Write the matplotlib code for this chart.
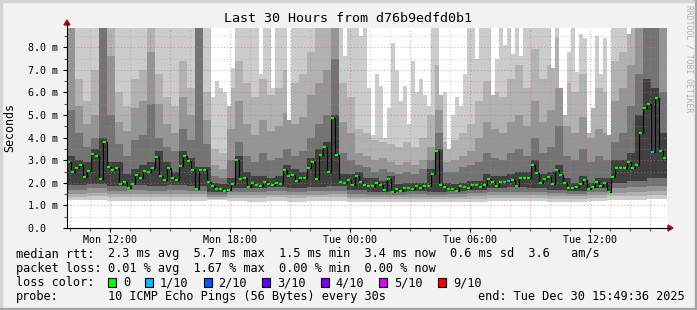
import matplotlib

matplotlib.use("Agg")
import matplotlib.pyplot as plt
import matplotlib.transforms as mtransforms
import numpy as np
from matplotlib.lines import Line2D
from matplotlib.patches import Polygon, Rectangle

W, H = 697, 310
T0 = 9 + 49 / 60 + 36 / 3600  # Mon 09:49:36, in hours since Mon 00:00
SPAN = 30

# median rtt (ms), one value per 12 minutes
median_ms = [
    2.94, 2.49, 2.64, 2.79, 2.27, 2.54, 3.27, 3.19, 2.15, 3.82,
    2.71, 2.57, 2.67, 1.95, 2.05, 1.78, 1.93, 2.35, 2.20, 2.52,
    2.49, 2.64, 3.13, 2.32, 2.12, 2.67, 2.20, 2.12, 2.76, 3.19,
    2.96, 2.57, 1.71, 2.57, 2.57, 2.02, 1.87, 1.73, 1.71, 1.64,
    1.68, 1.93, 3.01, 2.17, 2.23, 1.83, 1.98, 1.90, 1.86, 2.05,
    1.95, 1.90, 2.01, 1.93, 2.57, 2.32, 2.35, 2.09, 2.20, 2.20,
    2.67, 2.94, 2.17, 3.23, 3.60, 2.49, 4.88, 3.23, 2.05, 1.98,
    2.12, 1.90, 2.32, 2.05, 1.90, 1.87, 1.87, 1.98,
    1.90, 1.68, 2.17, 1.61, 1.71, 1.65, 1.76, 1.78, 1.73, 1.84,
    1.76, 1.84, 1.87, 2.37, 3.41, 1.90, 1.80, 1.71, 1.74, 1.64,
    1.87, 1.80, 1.76, 1.92, 1.90, 1.83, 1.90, 2.15, 2.05, 1.84,
    2.05, 2.05, 2.08, 2.11, 1.87, 2.23, 2.23, 2.20, 2.79,
    2.42, 1.98, 2.18, 2.27, 1.96, 2.57, 2.35, 1.98, 1.76, 1.78,
    1.81, 1.96, 2.11, 1.74, 1.83, 2.02, 1.87, 1.98, 1.61, 2.27,
    2.67, 2.67, 2.67, 2.94, 2.64, 2.79, 4.20, 5.30, 5.50, 3.35,
    5.77, 3.40, 3.10,
]
loss_1of10 = [110, 146]  # 12-minute slots where 1 of 10 pings was lost

# highest ping per 12 minutes (values above the top are clipped)
smoke_max = (
    [9.0] * 36
    + [5.8, 6.5, 6.2, 6.0, 5.4, 7.1]
    + [9.0] * 6
    + [6.8, 9.0, 9.0, 6.2, 9.0, 9.0, 9.0, 4.8]
    + [9.0] * 13
    + [7.6, 9.0, 9.0, 9.0]
    + [8.5, 9.0, 6.2, 4.1, 6.8, 6.3, 4.0, 5.3, 8.2, 7.0,
       5.6, 6.3, 4.6, 7.4, 6.0, 6.6, 5.9, 5.4, 9.0, 9.0,
       5.9, 6.0, 3.5, 5.0, 5.8, 5.4, 6.8, 9.0, 9.0, 7.5,
       9.0, 9.0, 9.0, 5.9, 7.5, 9.0, 8.1, 9.0, 7.7, 9.0,
       7.6]
    + [9.0] * 7
    + [7.1, 9.0, 6.2, 5.0, 7.8, 9.0, 6.9, 8.6, 8.4, 4.2,
       5.3, 8.5, 6.8, 8.4, 4.1, 9.0, 9.0, 9.0, 9.0, 8.6]
    + [9.0] * 9
)

# upper smoke layers, one value per 24 minutes
smoke_light = [
    8.9, 6.6, 5.6, 7.0, 8.9, 8.9, 6.0, 5.4, 6.6, 7.0, 8.9, 6.8, 5.8, 5.4, 7.4, 6.2, 8.9, 6.0,
    3.5, 3.3,
    6.2, 7.4, 6.4, 5.8, 6.6, 5.9, 6.2, 7.0, 6.4, 6.8, 7.8, 8.9, 8.9, 8.9, 6.4, 5.8,
    4.4, 4.2, 3.9, 3.8, 3.7, 3.6, 3.8, 3.6, 4.0, 5.0, 7.2, 3.8, 3.9, 4.2, 4.6,
    5.6, 6.5, 6.0, 5.8, 6.6, 7.2, 6.2, 7.9, 6.6, 7.2, 8.4, 6.4, 6.0, 6.8, 5.6, 6.2, 6.0,
    7.4, 7.8, 8.9, 8.9, 8.9, 8.9, 8.9,
]
smoke_mid = [
    8.9, 5.4, 4.6, 5.0, 8.9, 7.6, 4.7, 4.3, 5.3, 5.6, 7.8, 5.5, 4.6, 4.2, 5.8, 5.0, 8.9, 4.8,
    2.8, 2.6,
    4.4, 5.6, 4.6, 4.1, 4.8, 4.3, 4.5, 5.1, 4.6, 4.9, 5.9, 6.4, 7.0, 8.9, 4.7, 4.2,
    3.3, 3.2, 3.0, 3.1, 2.9, 2.8, 2.9, 2.8, 3.0, 3.6, 5.2, 2.9, 3.0, 3.2, 3.4,
    4.0, 4.7, 4.4, 4.2, 4.7, 5.0, 4.5, 5.6, 4.7, 5.2, 6.2, 4.5, 4.2, 4.9, 4.0, 4.4, 4.2,
    5.6, 6.2, 7.2, 8.9, 8.9, 8.9, 8.9,
]
smoke_low = [
    5.2, 4.2, 3.6, 4.0, 8.9, 5.0, 3.7, 3.2, 3.9, 4.1, 5.5, 4.0, 3.6, 3.4, 4.4, 3.9, 8.9, 3.7,
    2.3, 2.2,
    3.0, 3.8, 3.2, 2.9, 3.3, 3.0, 3.1, 3.5, 3.2, 3.4, 4.0, 4.6, 5.0, 7.5, 3.3, 3.0,
    2.8, 2.7, 2.5, 2.6, 2.5, 2.4, 2.5, 2.4, 2.6, 3.0, 4.2, 2.5, 2.5, 2.7, 2.8,
    2.9, 3.3, 3.1, 3.0, 3.3, 3.5, 3.2, 4.0, 3.3, 3.6, 4.5, 3.2, 3.0, 3.5, 2.9, 3.2, 3.0,
    3.8, 4.2, 5.4, 6.8, 8.9, 8.9, 6.0,
]
smoke_dark = [
    3.2, 3.0, 2.9, 3.5, 4.0, 2.9, 2.9, 2.4, 2.6, 2.8,
    2.9, 3.4, 2.9, 2.5, 3.4, 3.1, 2.7, 2.7, 2.0, 1.95,
    2.2, 3.2, 2.5, 2.3, 2.3, 2.2, 2.3, 2.8, 2.6, 2.5,
    3.1, 3.5, 3.8, 5.0, 2.4, 2.4, 2.5, 2.2, 2.2, 2.1,
    2.3, 1.95, 2.0, 2.0, 2.0, 2.6, 3.5, 2.0, 1.95, 2.0,
    2.1, 2.1, 2.4, 2.3, 2.3, 2.4, 2.5, 2.5, 3.0, 2.4,
    2.5, 2.8, 2.2, 2.0, 2.3, 2.0, 2.2, 2.2, 3.0, 3.0,
    3.3, 5.0, 6.6, 6.2, 4.2,
]

# lower smoke layers, one value per hour
floor_dark = [1.90, 1.95, 1.85, 1.90, 1.85, 1.90, 1.85, 1.60, 1.75, 1.75,
              1.80, 1.75, 1.80, 1.85, 1.70, 1.60, 1.60, 1.65, 1.60, 1.65,
              1.70, 1.75, 1.80, 1.75, 1.70, 1.65, 1.75, 2.00, 2.10, 2.20]
floor_low = [1.70, 1.75, 1.65, 1.70, 1.65, 1.70, 1.65, 1.45, 1.60, 1.60,
             1.62, 1.60, 1.62, 1.65, 1.52, 1.48, 1.48, 1.50, 1.48, 1.50,
             1.55, 1.58, 1.60, 1.58, 1.55, 1.52, 1.60, 1.75, 1.80, 1.85]
floor_mid = [1.52, 1.55, 1.50, 1.52, 1.50, 1.52, 1.50, 1.38, 1.45, 1.45,
             1.48, 1.45, 1.48, 1.50, 1.38, 1.36, 1.36, 1.38, 1.36, 1.38,
             1.42, 1.44, 1.46, 1.44, 1.42, 1.40, 1.46, 1.55, 1.60, 1.62]
floor_light = [1.38, 1.40, 1.36, 1.38, 1.36, 1.38, 1.36, 1.30, 1.34, 1.34,
               1.36, 1.34, 1.36, 1.38, 1.28, 1.27, 1.27, 1.28, 1.27, 1.28,
               1.30, 1.32, 1.33, 1.32, 1.30, 1.30, 1.33, 1.40, 1.42, 1.45]
floor_min = [1.22, 1.22, 1.20, 1.20, 1.18, 1.20, 1.20, 1.22, 1.18, 1.17,
             1.18, 1.16, 1.18, 1.20, 1.15, 1.14, 1.15, 1.16, 1.15, 1.16,
             1.17, 1.18, 1.20, 1.18, 1.17, 1.16, 1.18, 1.22, 1.25, 1.28]

tick_hours = [12, 18, 24, 30, 36]
tick_labels = ["Mon 12:00", "Mon 18:00", "Tue 00:00", "Tue 06:00", "Tue 12:00"]

title = "Last 30 Hours from d76b9edfd0b1"
rtt_text = "2.3 ms avg  5.7 ms max  1.5 ms min  3.4 ms now  0.6 ms sd  3.6   am/s"
loss_text = "0.01 % avg  1.67 % max  0.00 % min  0.00 % now"
probe_text = "10 ICMP Echo Pings (56 Bytes) every 30s"
end_text = "end: Tue Dec 30 15:49:36 2025"
loss_names = ["0", "1/10", "2/10", "3/10", "4/10", "5/10", "9/10"]
loss_colors = ["#00ff00", "#00b8ff", "#0059ff", "#5e00ff", "#7e00ff", "#dd00ff", "#ff0000"]

plt.rcParams["font.family"] = ["DejaVu Sans Mono"]

fig = plt.figure(figsize=(W / 100, H / 100), dpi=100, facecolor="#f2f2f2")
# pixel coordinates, origin at top left
pix = mtransforms.Affine2D().scale(1 / W, -1 / H).translate(0, 1) + fig.transFigure

ax = fig.add_axes([67 / W, (H - 228) / H, 600 / W, 200 / H])
ax.set_facecolor("white")
ax.set_xlim(T0, T0 + SPAN)
ax.set_ylim(0, 8.85)
for s in ax.spines.values():
    s.set_visible(False)

edges = T0 + 0.2 * np.arange(len(median_ms) + 1)
med = np.asarray(median_ms)


def up(arr, n):
    return np.repeat(np.asarray(arr, float), n)


top4 = np.asarray(smoke_max)
top3 = np.minimum(up(smoke_light, 2), top4)
top2 = np.minimum(up(smoke_mid, 2), top3)
top1 = np.minimum(up(smoke_low, 2), top2)
top0 = np.maximum(np.minimum(up(smoke_dark, 2), top1), med)
bot0 = np.minimum(up(floor_dark, 5), med)
bot1 = np.minimum(up(floor_low, 5), bot0)
bot2 = np.minimum(up(floor_mid, 5), bot1)
bot3 = np.minimum(up(floor_light, 5), bot2)
bot4 = np.minimum(up(floor_min, 5), bot3)


def band(lo, hi, color):
    ax.fill_between(edges, np.append(lo, lo[-1]), np.append(hi, hi[-1]),
                    step="post", facecolor=color, edgecolor="none", lw=0,
                    antialiased=False, zorder=1)


band(bot4, top4, "#cccccc")
band(bot3, top3, "#b2b2b2")
band(bot2, top2, "#959595")
band(bot1, top1, "#737373")
band(bot0, top0, "#404040")

# grid drawn over the smoke, like rrdtool
for h in range(10, 40):
    major = h % 3 == 0
    ax.axvline(h, color="#d46a6a" if major else "#9a9a9a", alpha=0.6 if major else 0.5,
               lw=0.8, ls=(0, (1, 2)), zorder=2)
for y in np.arange(0.5, 8.85, 0.5):
    major = float(y).is_integer()
    ax.axhline(y, color="#d46a6a" if major else "#9a9a9a", alpha=0.6 if major else 0.5,
               lw=0.8, ls=(0, (1, 2)), zorder=2)

# median
ax.step(edges, np.append(med, med[-1]), where="post", color="black", lw=0.8, zorder=3)
colors = ["#00b8ff" if i in loss_1of10 else "#00ff00" for i in range(len(med))]
ax.hlines(med, edges[:-1] + 0.02, edges[1:] - 0.06, colors=colors, lw=1.5, zorder=4)

ax.set_xticks(tick_hours, tick_labels)
ax.set_xticks(range(10, 40), minor=True)
yt = np.arange(0, 9, 1.0)
ax.set_yticks(yt, ["0.0  " if v == 0 else f"{v:.1f} m" for v in yt])
ax.set_yticks(np.arange(0.5, 8.85, 1.0), minor=True)
ax.tick_params(which="major", length=3, width=0.8, color="black", labelsize=7.2, pad=2)
ax.tick_params(which="minor", length=2, width=0.8, color="#555555")
ax.tick_params(axis="y", which="major", pad=3.2)

# axes with arrows
fig.add_artist(Line2D([67, 670], [228, 228], color="black", lw=0.8, transform=pix))
fig.add_artist(Line2D([67, 67], [228, 23], color="black", lw=0.8, transform=pix))
fig.add_artist(Polygon([(668, 225), (673, 228), (668, 231)], closed=True,
                       color="#9a1414", transform=pix))
fig.add_artist(Polygon([(64, 25), (67, 20), (70, 25)], closed=True,
                       color="#9a1414", transform=pix))

# 3d border
fig.add_artist(Rectangle((0, 0), W, 2, color="#d4d4d4", transform=pix))
fig.add_artist(Rectangle((0, 0), 2, H, color="#d4d4d4", transform=pix))
fig.add_artist(Rectangle((0, H - 2), W, 2, color="#a4a4a4", transform=pix))
fig.add_artist(Rectangle((W - 2, 0), 2, H, color="#a4a4a4", transform=pix))

fig.text(348.5, 19, title, transform=pix, ha="center", va="center", fontsize=9.6)
fig.text(10, 128, "Seconds", transform=pix, ha="center", va="center",
         rotation=90, fontsize=8.4)
fig.text(689, 5, "RRDTOOL / TOBI OETIKER", transform=pix, ha="center", va="top",
         rotation=270, fontsize=5.8, color="#b0b0b0")

leg = dict(transform=pix, ha="left", va="center", fontsize=8.55)
fig.text(16, 254, "median rtt:", **leg)
fig.text(107.6, 254, rtt_text, **leg)
fig.text(16, 268.3, "packet loss:", **leg)
fig.text(107.6, 268.3, loss_text, **leg)
fig.text(16, 282.5, "loss color:", **leg)
box_x = 108.4
for name, col in zip(loss_names, loss_colors):
    fig.add_artist(Rectangle((box_x, 278.3), 8, 8.4, facecolor=col, edgecolor="black",
                             lw=0.8, transform=pix))
    fig.text(box_x + 15, 282.5, name, **leg)
    box_x += 15 + 7.15 * len(name) + 15 if len(name) > 1 else 36.6
fig.text(16, 296.5, "probe:", **leg)
fig.text(107.6, 296.5, probe_text, **leg)
fig.text(477.8, 296.5, end_text, **leg)

fig.savefig("out.png", dpi=100, facecolor=fig.get_facecolor())
